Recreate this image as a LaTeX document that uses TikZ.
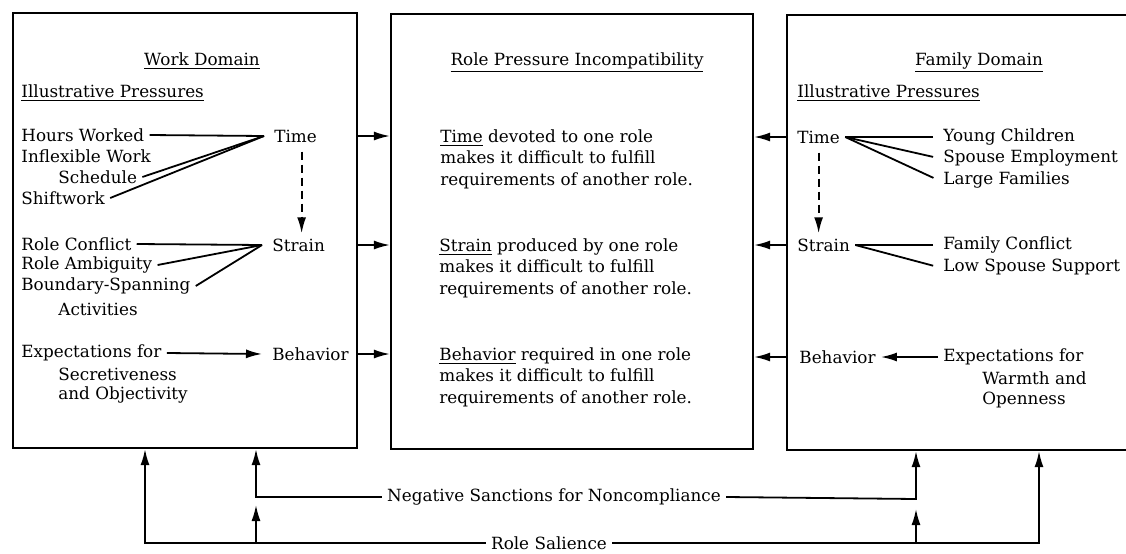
\documentclass[tikz,border=0pt]{standalone}
\usepackage{fontspec}
\setmainfont{DejaVu Serif}
\usetikzlibrary{arrows.meta}

\tikzset{
  panel/.style={draw, line width=1.1pt},
  txt/.style={inner sep=2.5pt, anchor=west, font=\fontsize{8.4}{10.75}\selectfont},
  hub/.style={txt, inner xsep=5pt},
  head/.style={inner sep=0pt, anchor=base, font=\fontsize{8.4}{10.75}\selectfont},
  block/.style={inner sep=0pt, anchor=north west, align=left, font=\fontsize{8.4}{10.75}\selectfont},
  link/.style={line width=0.9pt},
  arr/.style={link, -{Latex[length=8pt,width=4.5pt]}},
  darr/.style={arr, dash pattern=on 4pt off 2.5pt, shorten <=2pt},
}

\begin{document}
\begin{tikzpicture}[x=0.5pt, y=-0.5pt]
	\useasboundingbox (0,0) rectangle (1126,553);
	\clip (0,0) rectangle (1126,553);
	% panels
	\node[panel, minimum width=172pt, minimum height=217.5pt] (wbox) at (185,230.5) {};
	\node[panel, minimum width=181pt, minimum height=217.5pt] (mbox) at (572,231.5) {};
	\node[panel, minimum width=176.5pt, minimum height=217.5pt] (fbox) at (963.5,232.5) {};
	% work domain
	\node[head] (wtitle) at (202,65) {\underline{Work Domain}};
	\node[head, anchor=base west] (wpress) at (21,97) {\underline{Illustrative Pressures}};
	\node[txt] (hours) at (16,135) {Hours Worked};
	\node[txt] (inflex) at (16,156) {Inflexible Work};
	\node[txt] (sched) at (53,177) {Schedule};
	\node[txt] (shift) at (16,198) {Shiftwork};
	\node[txt] (rconf) at (16,244) {Role Conflict};
	\node[txt] (ramb) at (16,265) {Role Ambiguity};
	\node[txt] (bspan) at (16,286) {Boundary-Spanning};
	\node[txt] (activ) at (53,309) {Activities};
	\node[txt] (wexp) at (16,353) {Expectations for};
	\node[txt] (secr) at (53,374) {Secretiveness};
	\node[txt] (objec) at (53,395) {and Objectivity};
	\node[hub] (wtime) at (264,136) {Time};
	\node[hub] (wstrain) at (262,245) {Strain};
	\node[hub] (wbehav) at (262,354) {Behavior};
	\draw[link] (hours.east) -- (wtime.west);
	\draw[link] (sched.east) -- (wtime.west);
	\draw[link] (shift.east) -- (wtime.west);
	\draw[link] (rconf.east) -- (wstrain.west);
	\draw[link] (ramb.east) -- (wstrain.west);
	\draw[link] (bspan.east) -- (wstrain.west);
	\draw[arr] (wexp.east) -- (wbehav.west);
	\draw[darr] ([xshift=3pt]wtime.south) -- ([xshift=3pt]wtime.south |- wstrain.north);
	% incompatibility
	\node[head] (mtitle) at (577,65) {\underline{Role Pressure Incompatibility}};
	\node[block] (mtime) at (440,129) {\underline{Time} devoted to one role\\makes it difficult to fulfill\\requirements of another role.};
	\node[block] (mstrain) at (439,238) {\underline{Strain} produced by one role\\makes it difficult to fulfill\\requirements of another role.};
	\node[block] (mbehav) at (439,347) {\underline{Behavior} required in one role\\makes it difficult to fulfill\\requirements of another role.};
	% family domain
	\node[head] (ftitle) at (979,65) {\underline{Family Domain}};
	\node[head, anchor=base west] (fpress) at (797,97) {\underline{Illustrative Pressures}};
	\node[txt] (ftime) at (792,137) {Time};
	\node[txt] (fstrain) at (792,245) {Strain};
	\node[txt] (fbehav) at (794,357) {Behavior};
	\node[txt] (young) at (938,137) {Young Children};
	\node[txt] (spouse) at (938,158) {Spouse Employment};
	\node[txt] (large) at (938,180) {Large Families};
	\node[txt] (fconf) at (938,245) {Family Conflict};
	\node[txt] (lowsup) at (938,267) {Low Spouse Support};
	\node[txt] (fexp) at (938,357) {Expectations for};
	\node[txt] (warmth) at (977,378) {Warmth and};
	\node[txt] (open) at (977,400) {Openness};
	\draw[link, shorten <=2.5pt] (young.west) -- (ftime.east);
	\draw[link, shorten <=2.5pt] (spouse.west) -- (ftime.east);
	\draw[link, shorten <=2.5pt] (large.west) -- (ftime.east);
	\draw[link, shorten <=2.5pt] (fconf.west) -- (fstrain.east);
	\draw[link, shorten <=2.5pt] (lowsup.west) -- (fstrain.east);
	\draw[arr] (fexp.west) -- (fbehav.east);
	\draw[darr] (ftime.south) -- (ftime.south |- fstrain.north);
	% into the middle panel
	\foreach \n in {wtime,wstrain,wbehav}
		\draw[arr] (wbox.east |- \n) -- (mbox.west |- \n);
	\foreach \n in {ftime,fstrain,fbehav}
		\draw[arr] (fbox.west |- \n) -- (mbox.east |- \n);
	% sanctions and salience
	\node[txt, anchor=center] (sanc) at (554,497) {Negative Sanctions for Noncompliance};
	\node[txt, anchor=center] (sal) at (549,543) {Role Salience};
	\coordinate (nL) at (256,497);
	\coordinate (nR) at (916,499);
	\coordinate (sL) at (145,543);
	\coordinate (sR) at (1039,543);
	\draw[arr] (sanc.west) -- (nL) -- (nL |- wbox.south);
	\draw[arr] (sanc.east) -- (nR) -- (nR |- fbox.south);
	\draw[arr] (sal.west) -- (sL) -- (sL |- wbox.south);
	\draw[arr] (sal.east) -- (sR) -- (sR |- fbox.south);
	\draw[arr, shorten >=4pt] (nL |- sL) -- (nL);
	\draw[arr, shorten >=5pt] (nR |- sR) -- (nR);
\end{tikzpicture}
\end{document}
